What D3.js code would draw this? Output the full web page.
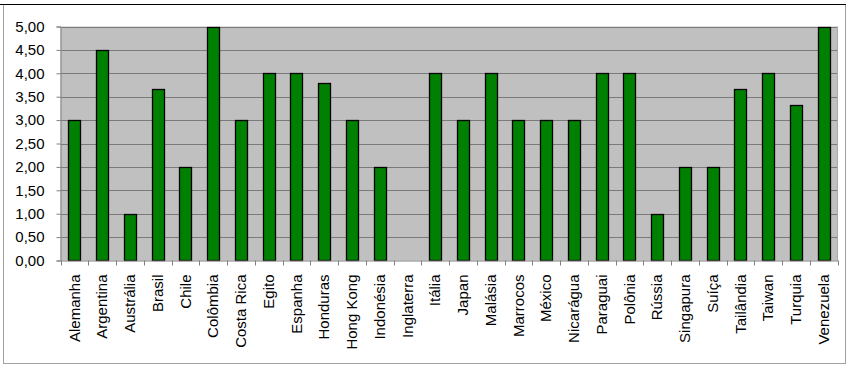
<!DOCTYPE html>
<html><head><meta charset="utf-8">
<script src="https://cdn.jsdelivr.net/npm/d3@7"></script>
<style>body{margin:0;background:#fff}svg{display:block}</style>
</head><body>
<svg id="c" width="850" height="369"></svg>
<script>
const categories = ["Alemanha","Argentina","Austrália","Brasil","Chile","Colômbia","Costa Rica","Egito","Espanha","Honduras","Hong Kong","Indonésia","Inglaterra","Itália","Japan","Malásia","Marrocos","México","Nicarágua","Paraguai","Polônia","Rússia","Singapura","Suíça","Tailândia","Taiwan","Turquia","Venezuela"];
const values = [3,4.5,1,3.67,2,5,3,4,4,3.8,3,2,null,4,3,4,3,3,3,4,4,1,2,2,3.67,4,3.33,5];
const yTicks = [0,0.5,1,1.5,2,2.5,3,3.5,4,4.5,5];

const svg = d3.select("#c");
const L=60.5, R=837.5, T=26.5, B=260.5;
const FONT = "'Liberation Sans',Arial,sans-serif";
// outer frame
svg.append("rect").attr("x",3.5).attr("y",4.5).attr("width",842).attr("height",359).attr("fill","#fff").attr("stroke","#a0a0a0");
svg.append("line").attr("x1",0).attr("x2",846).attr("y1",4.5).attr("y2",4.5).attr("stroke","#000");

const x = d3.scaleBand().domain(categories).range([L,R]).paddingInner(0).paddingOuter(0);
const y = d3.scaleLinear().domain([0,5]).range([B,T]);

svg.append("rect").attr("x",L).attr("y",T).attr("width",R-L).attr("height",B-T).attr("fill","#c0c0c0");
svg.append("g").selectAll("line").data(yTicks.slice(1)).join("line")
  .attr("x1",L).attr("x2",R).attr("y1",d=>Math.round(y(d))+0.5).attr("y2",d=>Math.round(y(d))+0.5)
  .attr("stroke","#7a7a7a").attr("stroke-width",1);
svg.append("line").attr("x1",R).attr("x2",R).attr("y1",T).attr("y2",B).attr("stroke","#a8a8a8");

const bw = 12;
svg.append("g").selectAll("rect").data(categories.map((c,i)=>({c,v:values[i]})).filter(d=>d.v!=null)).join("rect")
  .attr("x",d=>Math.round(x(d.c)+x.bandwidth()/2-bw/2)+0.5)
  .attr("y",d=>Math.round(y(d.v))+0.5)
  .attr("width",bw)
  .attr("height",d=>Math.round(B-0.5)-Math.round(y(d.v)))
  .attr("fill","#008000").attr("stroke","#000").attr("stroke-width",1.3);

// y axis
const ya = svg.append("g").attr("transform",`translate(${L},0)`)
  .call(d3.axisLeft(y).tickValues(yTicks).tickSize(4).tickFormat(d=>d3.format(".2f")(d).replace(".",",")));
ya.select(".domain").attr("stroke","#808080");
ya.selectAll(".tick line").attr("stroke","#808080");
ya.selectAll("text").attr("font-family",FONT).attr("font-size",15).attr("fill","#000").attr("x",-16);

// x axis
const xa = svg.append("g").attr("transform",`translate(0,${B})`)
  .call(d3.axisBottom(x).tickSize(0).tickSizeOuter(0));
xa.select(".domain").attr("stroke","#808080");
xa.selectAll(".tick text").attr("font-family",FONT).attr("font-size",15).attr("fill","#000")
  .attr("transform","rotate(-90)").attr("text-anchor","end").attr("x",-14).attr("y",0).attr("dy","0.35em");
// category separator ticks
svg.append("g").selectAll("line").data(categories.concat(["__end"])).join("line")
  .attr("x1",(d,i)=>Math.round(L+i*x.step())+0.5).attr("x2",(d,i)=>Math.round(L+i*x.step())+0.5)
  .attr("y1",B).attr("y2",B+5).attr("stroke","#808080");
</script>
</body></html>
